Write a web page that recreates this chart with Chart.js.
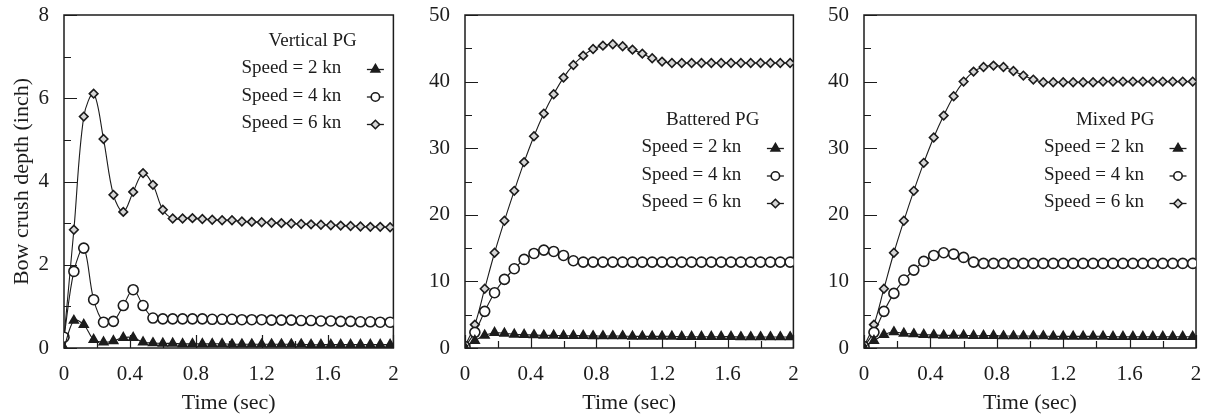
<!DOCTYPE html>
<html><head><meta charset="utf-8">
<script src="https://cdn.jsdelivr.net/npm/chart.js@4/dist/chart.umd.min.js"></script>
<style>
html,body{margin:0;padding:0;background:#fff;width:1216px;height:418px;overflow:hidden;}
.p{position:absolute;top:0;height:418px;}
canvas{display:block;}
</style></head>
<body>
<div class="p" style="left:0;width:400px"><canvas id="c1" width="400" height="418"></canvas></div>
<div class="p" style="left:400px;width:400px"><canvas id="c2" width="400" height="418"></canvas></div>
<div class="p" style="left:800px;width:416px"><canvas id="c3" width="416" height="418"></canvas></div>
<script>
// ---------- data ----------
const times = [0,0.06,0.12,0.18,0.24,0.30,0.36,0.42,0.48,0.54,0.60,0.66,0.72,0.78,0.84,0.90,0.96,1.02,1.08,1.14,1.20,1.26,1.32,1.38,1.44,1.50,1.56,1.62,1.68,1.74,1.80,1.86,1.92,1.98];
const speedLabels = ['Speed = 2 kn','Speed = 4 kn','Speed = 6 kn'];
const panelTitles = ['Vertical PG','Battered PG','Mixed PG'];
const xTickLabels = ['0','0.4','0.8','1.2','1.6','2'];
const yTickLabelsVertical = ['0','2','4','6','8'];
const yTickLabelsOther = ['0','10','20','30','40','50'];

const vertical2kn = [0,0.66,0.56,0.20,0.14,0.17,0.25,0.25,0.14,0.12,0.11,0.11,0.10,0.10,0.10,0.10,0.10,0.09,0.09,0.09,0.09,0.09,0.09,0.09,0.09,0.08,0.08,0.08,0.08,0.08,0.08,0.08,0.08,0.08];
const vertical4kn = [0.26,1.84,2.40,1.16,0.62,0.64,1.02,1.40,1.02,0.72,0.70,0.70,0.70,0.70,0.70,0.69,0.69,0.69,0.68,0.68,0.68,0.67,0.67,0.67,0.66,0.66,0.65,0.65,0.64,0.64,0.63,0.63,0.62,0.62];
const vertical6kn = [0.25,2.84,5.56,6.11,5.02,3.68,3.27,3.75,4.20,3.92,3.32,3.11,3.11,3.12,3.10,3.08,3.07,3.07,3.04,3.03,3.02,3.01,3.00,2.99,2.98,2.97,2.96,2.95,2.94,2.93,2.92,2.91,2.91,2.90];

const battered2kn = [0.1,1.1,1.9,2.3,2.2,2.05,2.0,1.95,1.9,1.9,1.85,1.85,1.85,1.8,1.8,1.8,1.8,1.75,1.75,1.75,1.75,1.75,1.7,1.7,1.7,1.7,1.7,1.7,1.65,1.65,1.65,1.65,1.65,1.65];
const battered4kn = [0.2,2.35,5.5,8.3,10.3,11.9,13.3,14.2,14.7,14.5,13.9,13.1,12.9,12.9,12.9,12.9,12.9,12.9,12.9,12.9,12.9,12.9,12.9,12.9,12.9,12.9,12.9,12.9,12.9,12.9,12.9,12.9,12.9,12.9];
const battered6kn = [0.3,3.5,8.9,14.3,19.1,23.6,27.9,31.8,35.2,38.1,40.6,42.5,43.9,44.9,45.4,45.6,45.3,44.8,44.2,43.5,43.0,42.8,42.8,42.8,42.8,42.8,42.8,42.8,42.8,42.8,42.8,42.8,42.8,42.8];

const mixed2kn = [0.1,1.1,2.0,2.4,2.2,2.1,2.0,1.95,1.9,1.9,1.9,1.85,1.85,1.85,1.8,1.8,1.8,1.8,1.8,1.75,1.75,1.75,1.75,1.75,1.75,1.7,1.7,1.7,1.7,1.7,1.7,1.7,1.7,1.7];
const mixed4kn = [0.2,2.35,5.5,8.2,10.2,11.7,13.0,13.9,14.3,14.1,13.6,12.9,12.7,12.7,12.7,12.7,12.7,12.7,12.7,12.7,12.7,12.7,12.7,12.7,12.7,12.7,12.7,12.7,12.7,12.7,12.7,12.7,12.7,12.7];
const mixed6kn = [0.25,3.5,8.9,14.3,19.1,23.6,27.8,31.6,34.9,37.8,40.0,41.5,42.2,42.4,42.2,41.6,40.9,40.3,39.9,39.9,39.9,39.9,39.9,39.9,40.0,40.0,40.0,40.0,40.0,40.0,40.0,40.0,40.0,40.0];

// ---------- styling ----------
const FONT = "'Liberation Serif', 'DejaVu Serif', serif";
const INK = '#1c1c1c';
const markerStyles = [
  {pointStyle:'triangle', radius:5, legendRadius:5, fill:INK},
  {pointStyle:'circle', radius:5, legendRadius:4.2, fill:'#ffffff'},
  {pointStyle:'rectRot', radius:4.3, legendRadius:4.2, fill:'#d6d6d6'}
];

function near(v, step){ const q = v/step; return Math.abs(q-Math.round(q)) < 1e-6; }
function fmt(v){ return String(Number(v.toFixed(2))); }

function makeDatasets(series){
  return series.map((arr, k) => ({
    label: speedLabels[k],
    data: times.map((t,i)=>({x:t, y:arr[i]})),
    borderColor: INK,
    borderWidth: 1.1,
    tension: 0.35,
    fill: false,
    pointStyle: markerStyles[k].pointStyle,
    pointRadius: markerStyles[k].radius,
    pointHoverRadius: markerStyles[k].radius,
    pointBackgroundColor: markerStyles[k].fill,
    pointBorderColor: INK,
    pointBorderWidth: 1.6,
    order: k
  }));
}

const framePlugin = {
  id: 'frame',
  beforeDatasetsDraw(chart, args, opts){
    const {ctx, chartArea:a, scales:{x, y}} = chart;
    ctx.save();
    ctx.strokeStyle = INK;
    ctx.lineWidth = 1.2;
    ctx.beginPath();
    x.ticks.forEach(t => {
      const px = Math.round(x.getPixelForValue(t.value)) + 0.5;
      const len = near(t.value, 0.4) ? 13 : 7;
      ctx.moveTo(px, a.bottom); ctx.lineTo(px, a.bottom - len);
    });
    y.ticks.forEach(t => {
      const py = Math.round(y.getPixelForValue(t.value)) + 0.5;
      const len = near(t.value, opts.yMajor) ? 13 : 7;
      ctx.moveTo(a.left, py); ctx.lineTo(a.left + len, py);
    });
    ctx.stroke();
    ctx.lineWidth = 1.5;
    ctx.strokeRect(a.left, a.top, a.right - a.left, a.bottom - a.top);
    ctx.restore();
  },
  afterDraw(chart, args, opts){
    const {ctx, chartArea:a} = chart;
    const markerX = a.right - 18;
    const textX = markerX - 134;
    ctx.save();
    ctx.fillStyle = INK;
    ctx.font = "19px " + FONT;
    ctx.textBaseline = 'alphabetic';
    ctx.textAlign = 'center';
    ctx.fillText(opts.title, (textX + markerX + 8.5)/2, opts.titleBaseline);
    ctx.textAlign = 'left';
    speedLabels.forEach((lab, k) => {
      const base = opts.titleBaseline + 27 + k*27.5;
      ctx.fillStyle = INK;
      ctx.fillText(lab, textX, base);
      const my = base - 3.5;
      ctx.strokeStyle = INK; ctx.lineWidth = 1.3;
      ctx.beginPath(); ctx.moveTo(markerX - 8.5, my); ctx.lineTo(markerX + 8.5, my); ctx.stroke();
      ctx.fillStyle = markerStyles[k].fill;
      ctx.lineWidth = 1.6;
      Chart.helpers.drawPoint(ctx, {pointStyle: markerStyles[k].pointStyle, radius: markerStyles[k].legendRadius, borderWidth: 1.6, rotation: 0}, markerX, my);
    });
    ctx.restore();
  }
};

function makeChart(id, series, cfg){
  return new Chart(document.getElementById(id), {
    type: 'line',
    data: { datasets: makeDatasets(series) },
    plugins: [framePlugin],
    options: {
      responsive: false,
      animation: false,
      events: [],
      layout: { padding: { top: 15, right: cfg.padRight, left: 0, bottom: 0 } },
      plugins: {
        legend: { display: false },
        tooltip: { enabled: false },
        frame: { title: cfg.title, titleBaseline: cfg.titleBaseline, yMajor: cfg.yMajor }
      },
      scales: {
        x: {
          type: 'linear', min: 0, max: 2,
          afterFit: s => { s.height = 70; s.paddingLeft = 0; s.paddingRight = 0; },
          grid: { display: false, drawTicks: false },
          border: { display: false },
          ticks: {
            stepSize: 0.2, autoSkip: false, maxRotation: 0, padding: 14,
            color: INK, font: { family: FONT, size: 21 },
            callback: v => { const s = fmt(v); return xTickLabels.includes(s) && near(v,0.4) ? s : ''; }
          },
          title: { display: true, text: 'Time (sec)', color: INK, font: { family: FONT, size: 22 }, padding: { top: 0, bottom: 2 } }
        },
        y: {
          type: 'linear', min: 0, max: cfg.yMax,
          afterFit: s => { s.width = cfg.yWidth; s.paddingTop = 0; s.paddingBottom = 0; },
          grid: { display: false, drawTicks: false },
          border: { display: false },
          ticks: {
            stepSize: cfg.yStep, autoSkip: false, padding: 15,
            color: INK, font: { family: FONT, size: 21 },
            callback: v => { const s = fmt(v); return cfg.yLabels.includes(s) ? s : ''; }
          },
          title: { display: !!cfg.yTitle, text: cfg.yTitle || '', color: INK, font: { family: FONT, size: 22 }, padding: { top: 9, bottom: 0 } }
        }
      }
    }
  });
}

makeChart('c1', [vertical2kn, vertical4kn, vertical6kn], {
  title: panelTitles[0], titleBaseline: 46, yMax: 8, yStep: 1, yMajor: 2,
  yLabels: yTickLabelsVertical, yWidth: 64, padRight: 4, yTitle: 'Bow crush depth (inch)'
});
makeChart('c2', [battered2kn, battered4kn, battered6kn], {
  title: panelTitles[1], titleBaseline: 125, yMax: 50, yStep: 5, yMajor: 10,
  yLabels: yTickLabelsOther, yWidth: 65, padRight: 4
});
makeChart('c3', [mixed2kn, mixed4kn, mixed6kn], {
  title: panelTitles[2], titleBaseline: 125, yMax: 50, yStep: 5, yMajor: 10,
  yLabels: yTickLabelsOther, yWidth: 64, padRight: 20
});
</script>
</body></html>
